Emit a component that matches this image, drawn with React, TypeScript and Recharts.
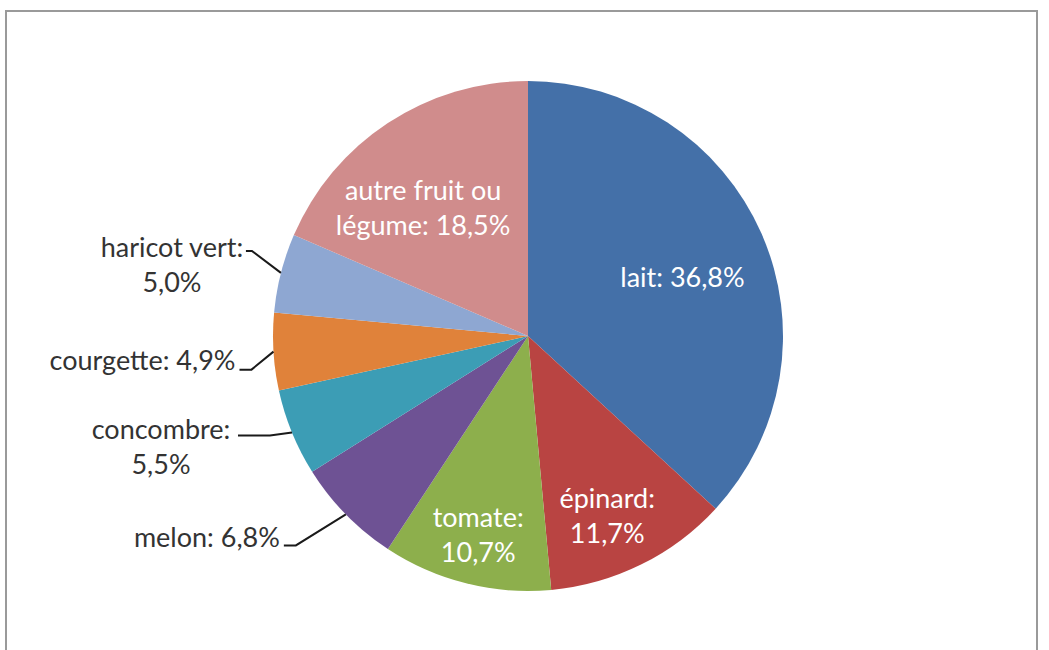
import React from "react";
import { PieChart, Pie, Cell } from "recharts";

const categories = ["lait", "épinard", "tomate", "melon", "concombre", "courgette", "haricot vert", "autre fruit ou légume"];
const values = [36.8, 11.7, 10.7, 6.8, 5.5, 4.9, 5.0, 18.5];
const labelLines = [
  ["lait: 36,8%"],
  ["épinard:", "11,7%"],
  ["tomate:", "10,7%"],
  ["melon: 6,8%"],
  ["concombre:", "5,5%"],
  ["courgette: 4,9%"],
  ["haricot vert:", "5,0%"],
  ["autre fruit ou", "légume: 18,5%"],
];
const colors = ["#4470A8", "#B94442", "#8DAF4C", "#6E5294", "#3C9DB5", "#E0823A", "#8EA7D2", "#D08C8C"];

const data = categories.map((c, i) => ({ name: c, value: values[i] }));

// label styling: inside labels placed along mid angle, outside labels with leader lines
const insideStyle: Record<number, { r: number; dx: number; dy: number }> = {
  0: { r: 160, dx: 8, dy: 5 },
  1: { r: 190, dx: -5, dy: 9 },
  2: { r: 205, dx: 0, dy: -1 },
  7: { r: 180, dx: -6, dy: 21 },
};
const outsideStyle: Record<number, { kdx: number; kdy: number; h: number; tx: number; ty: number; anchor: "middle" | "end" }> = {
  3: { kdx: -50, kdy: 31, h: 12, tx: -4, ty: -9, anchor: "end" },
  4: { kdx: -22, kdy: 3, h: 32, tx: -77, ty: -7, anchor: "middle" },
  5: { kdx: -22, kdy: 18, h: 12, tx: -4, ty: -10, anchor: "end" },
  6: { kdx: -29, kdy: -22, h: 6, tx: -74, ty: -4, anchor: "middle" },
};

const FONT = "Lato, 'Open Sans', sans-serif";
const FS = 27;
const LH = 35;
const RAD = Math.PI / 180;

const renderLabel = (props: any) => {
  const { cx, cy, midAngle, outerRadius, index } = props;
  const lines = labelLines[index];
  const cosA = Math.cos(-midAngle * RAD);
  const sinA = Math.sin(-midAngle * RAD);
  if (insideStyle[index]) {
    const s = insideStyle[index];
    const x = cx + s.r * cosA + s.dx;
    const y = cy + s.r * sinA + s.dy;
    const y0 = y - ((lines.length - 1) * LH) / 2;
    return (
      <g key={`l-${index}`}>
        {lines.map((t, j) => (
          <text key={j} x={x} y={y0 + j * LH} textAnchor="middle" dominantBaseline="central" fill="#ffffff" fontFamily={FONT} fontSize={FS}>
            {t}
          </text>
        ))}
      </g>
    );
  }
  const s = outsideStyle[index];
  const ex = cx + outerRadius * cosA;
  const ey = cy + outerRadius * sinA;
  const kx = ex + s.kdx;
  const ky = ey + s.kdy;
  const sx = kx - s.h;
  const sy = ky;
  const tx = sx + s.tx;
  const ty = sy + s.ty;
  return (
    <g key={`l-${index}`}>
      <polyline points={`${sx},${sy} ${kx},${ky} ${ex},${ey}`} fill="none" stroke="#1a1a1a" strokeWidth={2} />
      {lines.map((t, j) => (
        <text key={j} x={tx} y={ty + j * LH} textAnchor={s.anchor} dominantBaseline="central" fill="#333333" fontFamily={FONT} fontSize={FS}>
          {t}
        </text>
      ))}
    </g>
  );
};

export default function App() {
  return (
    <div style={{ position: "absolute", left: 0, top: 0, width: 1049, height: 650, background: "#fff", overflow: "hidden" }}>
      <div
        style={{
          position: "absolute",
          left: 5,
          top: 10,
          width: 1033,
          height: 700,
          border: "2px solid #9a9a9a",
          boxSizing: "border-box",
        }}
      />
      <div style={{ position: "absolute", left: 0, top: 0 }}>
        <PieChart width={1049} height={650} margin={{ top: 0, right: 0, bottom: 0, left: 0 }}>
          <Pie
            data={data}
            dataKey="value"
            nameKey="name"
            cx={528}
            cy={336}
            outerRadius={255}
            startAngle={90}
            endAngle={-270}
            stroke="none"
            isAnimationActive={false}
            label={renderLabel}
            labelLine={false}
          >
            {data.map((d, i) => (
              <Cell key={d.name} fill={colors[i]} />
            ))}
          </Pie>
        </PieChart>
      </div>
    </div>
  );
}
